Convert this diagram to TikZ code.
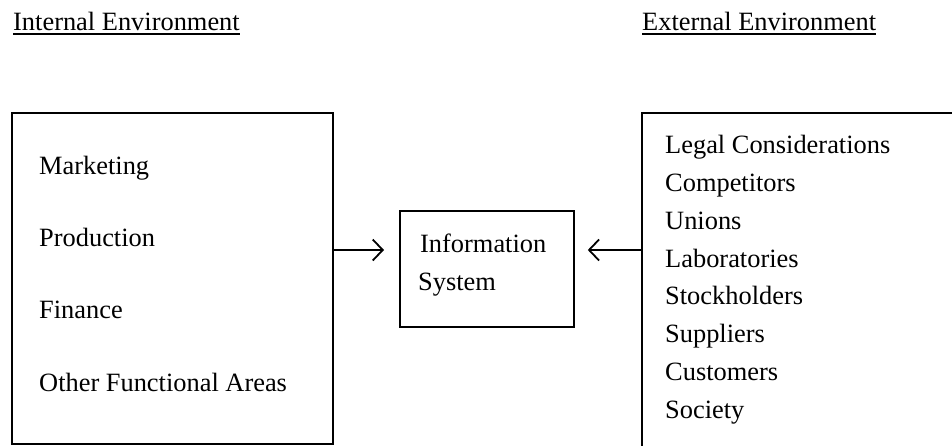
\documentclass[tikz,border=0pt]{standalone}
\usepackage{fontspec}
\setmainfont{Liberation Serif}
\usetikzlibrary{arrows.meta}
\begin{document}
\begin{tikzpicture}[x=1pt,y=-1pt,
  txt/.style={anchor=base west,inner sep=0pt,font=\fontsize{26.4}{31}\selectfont},
  boxline/.style={draw,line width=1.8pt,inner sep=0pt},
  arr/.style={line width=1.6pt,-{Straight Barb[length=10pt,width=21pt,line width=1.8pt]}},
  uline/.style={line width=2pt}]
\useasboundingbox (0,0) rectangle (952,445);
\clip (0,0) rectangle (952,445);
% boxes
\node[boxline,anchor=north west,minimum width=321pt,minimum height=331pt] (internal) at (11,112) {};
\node[boxline,anchor=north west,minimum width=174pt,minimum height=116pt] (info) at (399,210) {};
\node[boxline,anchor=north west,minimum width=360pt,minimum height=400pt] (external) at (641,112) {};
% headings
\node[txt] (ih) at (13,30) {Internal Environment};
\draw[uline] ([yshift=-4pt]ih.base west) -- ([yshift=-4pt]ih.base east);
\node[txt] (eh) at (642,30) {External Environment};
\draw[uline] ([yshift=-4pt]eh.base west) -- ([yshift=-4pt]eh.base east);
% internal list
\node[txt] (m1) at (39,174) {Marketing};
\node[txt] (m2) at (39,246) {Production};
\node[txt] (m3) at (39,318) {Finance};
\node[txt] (m4) at (39,391) {Other Functional Areas};
% info text
\node[txt] (is1) at (420,252) {Information};
\node[txt] (is2) at (418,290) {System};
% external list
\node[txt] (e1) at (665,153) {Legal Considerations};
\node[txt] (e2) at (665,191) {Competitors};
\node[txt] (e3) at (665,229) {Unions};
\node[txt] (e4) at (665,267) {Laboratories};
\node[txt] (e5) at (665,304) {Stockholders};
\node[txt] (e6) at (665,342) {Suppliers};
\node[txt] (e7) at (665,380) {Customers};
\node[txt] (e8) at (665,418) {Society};
% arrows
\coordinate (lvl) at (0,250);
\coordinate (ltip) at ([xshift=-15pt]info.west |- lvl);
\coordinate (rtip) at ([xshift=13pt]info.east |- lvl);
\draw[arr] (internal.east |- lvl) -- (ltip);
\draw[arr] (external.west |- lvl) -- (rtip);
\end{tikzpicture}
\end{document}
